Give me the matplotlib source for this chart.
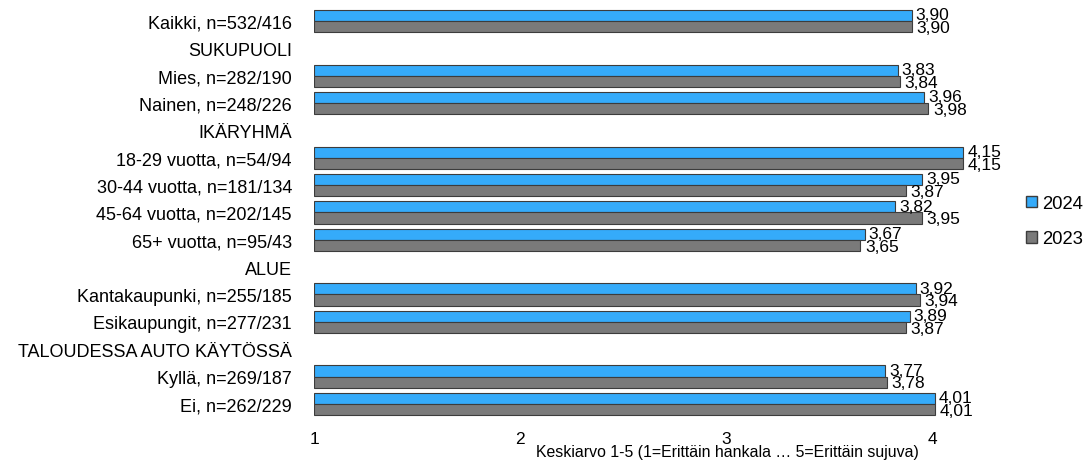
import numpy as np
import matplotlib.pyplot as plt
from matplotlib.patches import Patch

plt.rcParams['font.family'] = ['Liberation Sans', 'DejaVu Sans']

labels = ['Kaikki, n=532/416', 'SUKUPUOLI', 'Mies, n=282/190', 'Nainen, n=248/226',
          'IKÄRYHMÄ', '18-29 vuotta, n=54/94', '30-44 vuotta, n=181/134',
          '45-64 vuotta, n=202/145', '65+ vuotta, n=95/43', 'ALUE',
          'Kantakaupunki, n=255/185', 'Esikaupungit, n=277/231',
          'TALOUDESSA AUTO KÄYTÖSSÄ', 'Kyllä, n=269/187', 'Ei, n=262/229']
v2024 = [3.90, None, 3.83, 3.96, None, 4.15, 3.95, 3.82, 3.67, None, 3.92, 3.89, None, 3.77, 4.01]
v2023 = [3.90, None, 3.84, 3.98, None, 4.15, 3.87, 3.95, 3.65, None, 3.94, 3.87, None, 3.78, 4.01]
xticks = [1, 2, 3, 4]

c24 = '#35ABFA'
c23 = '#7A7A7A'
edge = '#3C3C3C'

fig = plt.figure(figsize=(10.91, 4.64), dpi=100)
ax = fig.add_axes([0.288, 0.098, 0.597, 0.884])

y = np.arange(len(labels))
h = 0.41
for i, (a, b) in enumerate(zip(v2024, v2023)):
    if a is None:
        continue
    ax.barh(y[i] - h / 2, a - 1, left=1, height=h, color=c24, edgecolor=edge, linewidth=0.8)
    ax.barh(y[i] + h / 2, b - 1, left=1, height=h, color=c23, edgecolor=edge, linewidth=0.8)
    ax.text(a + 0.018, y[i] - h / 2 - 0.02, f'{a:.2f}'.replace('.', ','), va='center', ha='left', fontsize=12.5)
    ax.text(b + 0.022, y[i] + h / 2 + 0.03, f'{b:.2f}'.replace('.', ','), va='center', ha='left', fontsize=12.5)

ax.set_xlim(1, 4.16)
ax.set_ylim(len(labels) - 0.5, -0.5)
ax.set_yticks(y)
ax.set_yticklabels(labels, fontsize=13)
ax.set_xticks(xticks)
ax.set_xticklabels([str(t) for t in xticks], fontsize=12.5)
ax.tick_params(axis='y', length=0, pad=16)
ax.tick_params(axis='x', length=0, pad=10)
for s in ax.spines.values():
    s.set_visible(False)

fig.text(727 / 1091, 1 - 453 / 464, 'Keskiarvo 1-5 (1=Erittäin hankala … 5=Erittäin sujuva)',
         ha='center', va='center', fontsize=11.4)

handles = [Patch(facecolor=c24, edgecolor=edge, label='2024'),
           Patch(facecolor=c23, edgecolor=edge, label='2023')]
fig.legend(handles=handles, loc='center left', bbox_to_anchor=(0.94, 0.521), frameon=False,
           fontsize=13.3, handlelength=0.6, handleheight=0.6, handletextpad=0.3, labelspacing=1.0,
           borderaxespad=0, borderpad=0)

plt.savefig('out.png', dpi=100)
